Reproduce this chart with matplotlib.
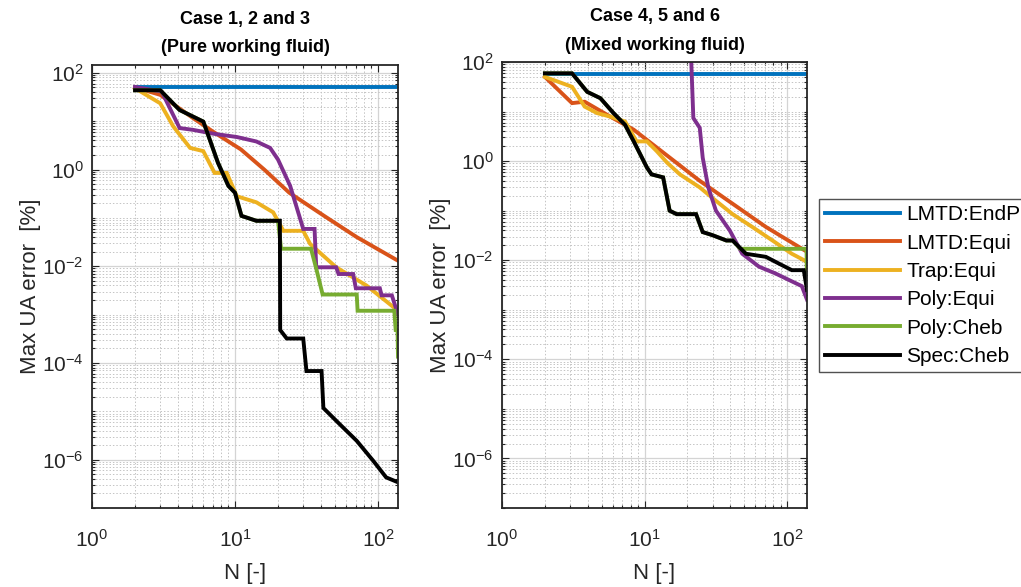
import numpy as np
import matplotlib
matplotlib.use("Agg")
import matplotlib.pyplot as plt
from matplotlib.ticker import FixedLocator, LogFormatterSciNotation, NullFormatter
from matplotlib.lines import Line2D

plt.rcParams['font.family'] = ['Liberation Sans', 'DejaVu Sans']
plt.rcParams['mathtext.fontset'] = 'custom'
plt.rcParams['mathtext.rm'] = 'Liberation Sans'
plt.rcParams['mathtext.it'] = 'Liberation Sans:italic'
plt.rcParams['mathtext.bf'] = 'Liberation Sans:bold'

# ---------------- data ----------------
labels = ["LMTD:EndP", "LMTD:Equi", "Trap:Equi", "Poly:Equi", "Poly:Cheb", "Spec:Cheb"]
colors = ["#0072BD", "#D95319", "#EDB120", "#7E2F8E", "#77AC30", "#000000"]
titles = ["Case 1, 2 and 3\n(Pure working fluid)", "Case 4, 5 and 6\n(Mixed working fluid)"]

# Left panel (pure working fluid)
L_endp_N = [2, 138]
L_endp_v = [52, 52]
L_lmtd_N = [2, 3, 5, 7, 11, 16, 24, 42, 71, 138]
L_lmtd_v = [50, 35, 12, 6.1, 2.6, 1.0, 0.33, 0.11, 0.04, 0.013]
L_trap_N = [2, 3, 3.7, 4.85, 6, 7.2, 8.75, 10.3, 14.1, 18.5, 21.8, 30, 33.5, 51, 83, 138]
L_trap_v = [48, 23.4, 7.8, 2.8, 2.4, 0.85, 0.85, 0.28, 0.21, 0.13, 0.054, 0.054, 0.029,
            0.0095, 0.004, 0.0012]
L_polyE_N = [2, 3.07, 4.1, 5.1, 7.05, 10.3, 14.1, 17.6, 20, 24.3, 30, 36, 37, 51, 53, 67, 70,
             103, 106, 125, 138]
L_polyE_v = [51, 41, 7.2, 6.6, 5.5, 4.7, 3.8, 2.8, 1.6, 0.46, 0.059, 0.059, 0.0095, 0.0095,
             0.0069, 0.0069, 0.0035, 0.0035, 0.0025, 0.0025, 0.001]
L_polyC_N = [2, 3, 4.1, 6, 6.3, 7.6, 9, 10, 11.1, 14.1, 20, 21, 34, 37, 41, 71, 72, 130, 133,
             137, 138]
L_polyC_v = [43.6, 43.6, 17, 9.8, 6.6, 1.38, 0.457, 0.331, 0.11, 0.087, 0.087, 0.023, 0.023,
             0.0089, 0.0026, 0.0026, 0.0012, 0.0012, 4.8e-4, 4.8e-4, 1.35e-4]
L_spec_N = [2, 3, 4.1, 6, 6.3, 7.6, 9, 10, 11.1, 14.1, 20.6, 20.7, 23, 30, 31.6, 40.3, 41.5,
            54, 71, 92.5, 114, 138]
L_spec_v = [43.6, 43.6, 17, 9.8, 6.6, 1.38, 0.457, 0.331, 0.11, 0.087, 0.087, 4.8e-4, 3.2e-4,
            3.2e-4, 6.8e-5, 6.8e-5, 1.17e-5, 5.4e-6, 2.45e-6, 9.5e-7, 4.3e-7, 3.4e-7]

# Right panel (mixed working fluid)
R_endp_N = [2, 138]
R_endp_v = [58, 58]
R_lmtd_N = [2, 3.1, 3.8, 5.75, 8.4, 24.4, 71, 138]
R_lmtd_v = [50, 14.8, 15.8, 7.9, 4.3, 0.4, 0.047, 0.0148]
R_trap_N = [2, 3.1, 3.8, 4.65, 5.75, 7.3, 8.8, 10.4, 12.2, 14.4, 17.7, 24.4, 31.7, 41.5, 57,
            79, 108, 138]
R_trap_v = [50, 31.6, 12.6, 9.3, 7.9, 6.3, 2.5, 2.5, 1.58, 0.93, 0.54, 0.295, 0.158, 0.085,
            0.047, 0.025, 0.0135, 0.0093]
R_polyE_N = [20, 21.3, 22, 24.4, 25.6, 28, 31.7, 39.6, 48.5, 63.6, 83, 103, 127, 138]
R_polyE_v = [1000, 93, 7.4, 4.7, 1.17, 0.295, 0.1, 0.04, 0.0135, 0.0074, 0.0054, 0.004, 0.003,
             0.0016]
R_polyC_N = [2, 3.1, 3.96, 4.9, 6.06, 7.3, 8.4, 10.4, 11.2, 13.5, 15, 16.8, 23, 25.6, 30, 37.5,
             41.5, 47, 137, 138]
R_polyC_v = [59, 59, 25, 18.6, 9.3, 5.4, 2.5, 0.74, 0.54, 0.47, 0.1, 0.085, 0.085, 0.037, 0.032,
             0.025, 0.025, 0.017, 0.017, 0.003]
R_spec_N = [2, 3.1, 3.96, 4.9, 6.06, 7.3, 8.4, 10.4, 11.2, 13.5, 15, 16.8, 23, 25.6, 30, 37.5,
            41.5, 51.5, 71, 88, 108, 131, 138]
R_spec_v = [59, 59, 25, 18.6, 9.3, 5.4, 2.5, 0.74, 0.54, 0.47, 0.1, 0.085, 0.085, 0.037, 0.032,
            0.025, 0.025, 0.0135, 0.0117, 0.0085, 0.0063, 0.0063, 0.0025]

left_series = [(L_endp_N, L_endp_v), (L_lmtd_N, L_lmtd_v), (L_trap_N, L_trap_v),
               (L_polyE_N, L_polyE_v), (L_polyC_N, L_polyC_v), (L_spec_N, L_spec_v)]
right_series = [(R_endp_N, R_endp_v), (R_lmtd_N, R_lmtd_v), (R_trap_N, R_trap_v),
                (R_polyE_N, R_polyE_v), (R_polyC_N, R_polyC_v), (R_spec_N, R_spec_v)]

xlim = (1, 138)
ylims = [(1e-7, 145), (1e-7, 100)]

# ---------------- figure ----------------
W, H = 1021, 587
fig = plt.figure(figsize=(W / 100, H / 100), dpi=100)
rects = [(92, 65, 398, 508), (502, 62, 807, 508)]
axes = []
for (x0, y0, x1, y1) in rects:
    axes.append(fig.add_axes([x0 / W, 1 - y1 / H, (x1 - x0) / W, (y1 - y0) / H]))

ymajor = [1e-6, 1e-4, 1e-2, 1e0, 1e2]
yminor = [k * 10.0 ** d for d in range(-7, 3) for k in range(1, 10) if k * 10.0 ** d not in ymajor]
xmajor = [1, 10, 100]
xminor = [k * 10.0 ** d for d in range(0, 3) for k in range(2, 10)]

for ax, series, title, yl in zip(axes, [left_series, right_series], titles, ylims):
    ax.set_xscale('log')
    ax.set_yscale('log')
    ax.set_xlim(*xlim)
    ax.set_ylim(*yl)
    ax.xaxis.set_major_locator(FixedLocator(xmajor))
    ax.xaxis.set_minor_locator(FixedLocator(xminor))
    ax.yaxis.set_major_locator(FixedLocator(ymajor))
    ax.yaxis.set_minor_locator(FixedLocator(yminor))
    ax.xaxis.set_major_formatter(LogFormatterSciNotation())
    ax.yaxis.set_major_formatter(LogFormatterSciNotation())
    ax.xaxis.set_minor_formatter(NullFormatter())
    ax.yaxis.set_minor_formatter(NullFormatter())
    ax.grid(True, which='major', color='#d4d4d4', lw=0.9, ls='-')
    ax.grid(True, which='minor', color='#c4c4c4', lw=0.7, ls=(0, (1.5, 2)))
    ax.set_axisbelow(True)
    for (n, v), c in zip(series, colors):
        ax.plot(n, v, color=c, lw=2.8, solid_joinstyle='miter')
    ax.tick_params(which='both', direction='in', top=True, right=True, colors='#262626',
                   labelcolor='#262626', labelsize=15, width=0.8)
    ax.tick_params(which='major', length=5)
    ax.tick_params(which='minor', length=2.5)
    ax.tick_params(axis='x', which='major', pad=15)
    ax.tick_params(axis='y', which='major', pad=6)
    for s in ax.spines.values():
        s.set_linewidth(1.3)
        s.set_color('#262626')
    ax.set_title(title, fontsize=13, fontweight='bold', color='#000000', linespacing=1.85, pad=9)
    ax.set_xlabel('N [-]', fontsize=16, color='#262626', labelpad=9)
    ax.set_ylabel('Max UA error  [%]', fontsize=16, color='#262626', labelpad=1)

handles = [Line2D([], [], color=c, lw=2.8) for c in colors]
leg = fig.legend(handles, labels, loc='upper left', bbox_to_anchor=(819 / W, 1 - 199 / H),
                 fontsize=15, frameon=True, fancybox=False, edgecolor='#262626',
                 handlelength=3.6, handletextpad=0.3, labelspacing=0.45, borderpad=0.3,
                 borderaxespad=0)
leg.get_frame().set_linewidth(1.0)
for t in leg.get_texts():
    t.set_color('#000000')

fig.savefig('out.png', dpi=100)
